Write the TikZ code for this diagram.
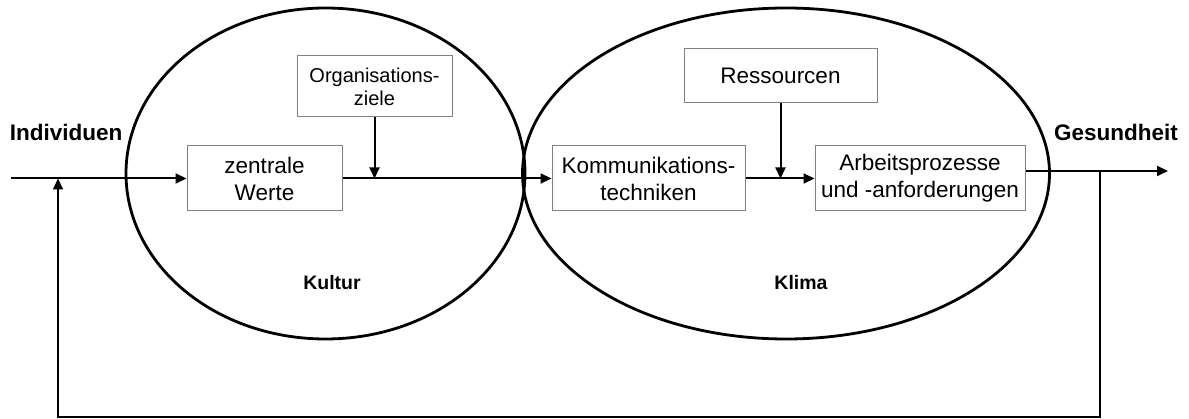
\documentclass[tikz,border=0pt]{standalone}
\usepackage{fontspec}
\setmainfont{Liberation Sans}
\usetikzlibrary{arrows.meta,shapes.geometric}
\begin{document}
\begin{tikzpicture}[x=1pt,y=-1pt,
  box/.style={draw=black!50,line width=1pt,fill=white,inner sep=0pt,align=center,
    font=\fontsize{22.5}{27}\selectfont},
  zone/.style={draw,ellipse,line width=2.8pt,inner sep=0pt},
  flow/.style={line width=2pt,-{Triangle[length=11pt,width=10pt]}},
  plain/.style={line width=2pt},
  tag/.style={font=\fontsize{22.5}{27}\selectfont\bfseries},
  zonetag/.style={font=\fontsize{19.5}{23}\selectfont\bfseries}]
\useasboundingbox (0,0) rectangle (1189,419);

% the two overlapping regions
\node[zone,minimum width=399pt,minimum height=331pt] (kultur) at (325.5,173.5) {};
\node[zone,minimum width=527pt,minimum height=331pt] (klima) at (786,173.5) {};
\node[zonetag] (kulturtag) at (332,283) {Kultur};
\node[zonetag] (klimatag) at (801,283) {Klima};

% boxes
\node[box,minimum width=155pt,minimum height=65pt] (zw) at (264.5,178.5) {zentrale\\Werte};
\node[box,minimum width=155pt,minimum height=61pt,font=\fontsize{20}{23}\selectfont] (oz) at (374.5,86.5) {Organisations-\\ziele};
\node[box,minimum width=193pt,minimum height=65pt] (kt) at (648.5,178.5) {Kommunikations-\\techniken};
\node[box,minimum width=193pt,minimum height=54pt] (rs) at (780.5,76) {Ressourcen};
\node[box,minimum width=210pt,minimum height=65pt] (ap) at (920,178.5) {Arbeitsprozesse\\und -anforderungen};

% outer labels
\node[tag] (indiv) at (66,132) {Individuen};
\node[tag] (gesund) at (1116,132) {Gesundheit};

% free ends and corners of the feedback loop
\coordinate (in) at (11,178.5);
\coordinate (fbL) at (58,178.5);
\coordinate (out) at (1168,171);
\coordinate (fbR) at (1100,171);
\coordinate (fbRb) at (1100,417);
\coordinate (fbLb) at (58,417);

% main flow
\draw[flow] (in) -- (zw.west);
\draw[flow] (zw.east) -- (kt.west);
\draw[flow] (kt.east) -- (ap.west);
\draw[flow] (ap.east |- out) -- (out);

% side influences
\draw[flow] (oz.south) -- (oz.south |- zw.east);
\draw[flow] (rs.south) -- (rs.south |- kt.east);

% feedback
\draw[plain,line cap=rect] (fbR) -- (fbRb) -- (fbLb);
\draw[flow] (fbLb) -- (fbL);
\end{tikzpicture}
\end{document}
